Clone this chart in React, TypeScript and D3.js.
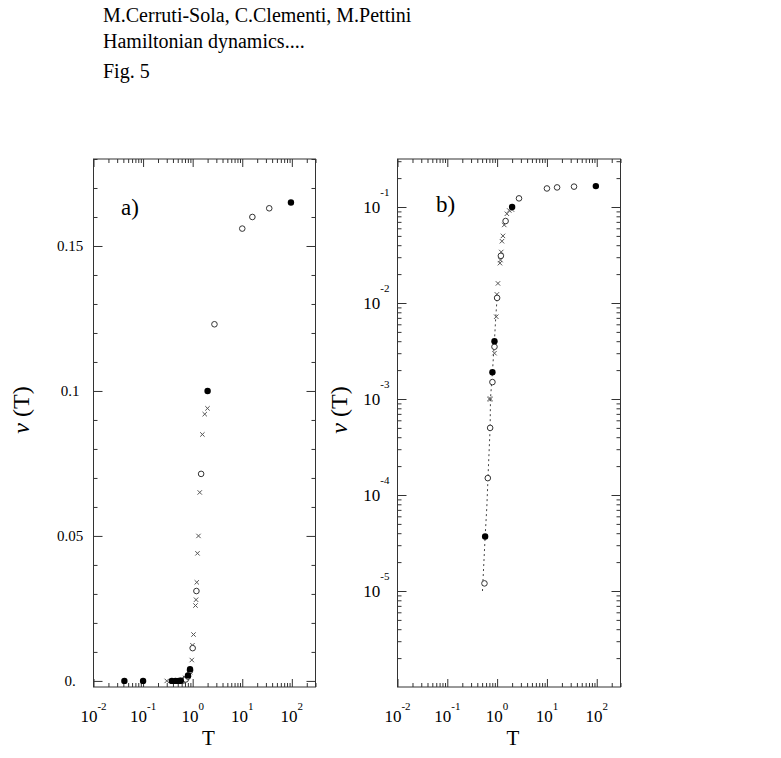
import React, { useEffect, useRef } from "react";
import * as d3 from "d3";

const titleLines = ["M.Cerruti-Sola, C.Clementi, M.Pettini", "Hamiltonian dynamics....", "Fig. 5"];

// filled circles
const filledT = [0.042, 0.1, 0.38, 0.45, 0.52, 0.575, 0.805, 0.885, 2.0, 96];
const filledNu = [0, 0, 0, 0, 0, 3.7e-5, 0.0019, 0.004, 0.1, 0.165];

// open circles
const openT = [0.557, 0.65, 0.724, 0.805, 0.885, 1.0, 1.19, 1.48, 2.75, 10, 16, 35];
const openNu = [1.2e-5, 1.5e-4, 5e-4, 0.0015, 0.0035, 0.0113, 0.031, 0.0714, 0.123, 0.156, 0.16, 0.163];

// crosses
const crossT = [0.3, 0.7, 0.74, 0.885, 0.96, 0.99, 1.04, 1.14, 1.17, 1.21, 1.25, 1.31, 1.39, 1.57, 1.75, 1.99];
const crossNu = [0, 0.001, 0.001, 0.003, 0.0072, 0.0123, 0.016, 0.026, 0.028, 0.034, 0.044, 0.05, 0.065, 0.085, 0.092, 0.094];

// dotted fit line (panel b)
const fitT = [0.508, 0.575, 0.622, 0.67, 0.724, 0.735, 0.805, 0.883, 0.94, 1.0];
const fitNu = [1.0e-5, 3.7e-5, 7.6e-5, 2.0e-4, 5.0e-4, 1.0e-3, 1.9e-3, 4.0e-3, 7.2e-3, 0.0113];

const xDecades = [-2, -1, 0, 1, 2];
const xTickLabels = ["-2", "-1", "0", "1", "2"];
const linTicks = [0, 0.05, 0.1, 0.15];
const linTickLabels = ["0.", "0.05", "0.1", "0.15"];
const logDecades = [-5, -4, -3, -2, -1];
const logTickLabels = ["-5", "-4", "-3", "-2", "-1"];

const FONT = "'Liberation Serif', 'Times New Roman', serif";
const INK = "#333";

const App = () => {
  const ref = useRef<SVGSVGElement>(null);

  useEffect(() => {
    const svg = d3.select(ref.current);
    svg.selectAll("*").remove();

    svg.append("g")
      .selectAll("text")
      .data(titleLines)
      .enter()
      .append("text")
      .attr("x", 103)
      .attr("y", (d, i) => [22, 48, 78][i])
      .attr("font-family", FONT)
      .attr("font-size", 20)
      .attr("fill", "#000")
      .text(d => d);

    const drawPanel = (p: any) => {
      const { x0, x1, y0, y1, log } = p;
      const g = svg.append("g");

      const x = d3.scaleLog().domain([1e-2, 300]).range([x0, x1]);
      const y: any = log
        ? d3.scaleLog().domain([1e-6, Math.pow(10, -0.5)]).range([y1, y0])
        : d3.scaleLinear().domain([-0.0021, 0.18]).range([y1, y0]);

      const xMajor = xDecades.map(k => Math.pow(10, k));
      const xMinor: number[] = [];
      xDecades.forEach(k => {
        for (let m = 2; m <= 9; m++) {
          const v = m * Math.pow(10, k);
          if (v <= 300) xMinor.push(v);
        }
      });

      let yMajor: number[];
      let yMinor: number[] = [];
      if (log) {
        yMajor = logDecades.map(k => Math.pow(10, k));
        [-6, -5, -4, -3, -2, -1].forEach(k => {
          for (let m = 2; m <= 9; m++) {
            const v = m * Math.pow(10, k);
            if (v <= Math.pow(10, -0.5)) yMinor.push(v);
          }
        });
      } else {
        yMajor = linTicks;
        yMinor = d3.range(0, 19).map(i => i / 100).filter(v => !linTicks.some(t => Math.abs(t - v) < 1e-9));
      }

      const axisStyle = (sel: any) => {
        sel.select(".domain").remove();
        sel.selectAll("line").attr("stroke", INK).attr("stroke-width", 1);
      };

      [[xMajor, 8], [xMinor, 4]].forEach(([vals, len]: any) => {
        g.append("g").attr("transform", `translate(0,${y1})`)
          .call(d3.axisBottom(x).tickValues(vals).tickSize(-len).tickSizeOuter(0).tickFormat(() => ""))
          .call(axisStyle);
        g.append("g").attr("transform", `translate(0,${y0})`)
          .call(d3.axisTop(x).tickValues(vals).tickSize(-len).tickSizeOuter(0).tickFormat(() => ""))
          .call(axisStyle);
      });
      [[yMajor, 9], [yMinor, 4]].forEach(([vals, len]: any) => {
        g.append("g").attr("transform", `translate(${x0},0)`)
          .call(d3.axisLeft(y).tickValues(vals).tickSize(-len).tickSizeOuter(0).tickFormat(() => ""))
          .call(axisStyle);
        g.append("g").attr("transform", `translate(${x1},0)`)
          .call(d3.axisRight(y).tickValues(vals).tickSize(-len).tickSizeOuter(0).tickFormat(() => ""))
          .call(axisStyle);
      });

      g.append("rect")
        .attr("x", x0).attr("y", y0)
        .attr("width", x1 - x0).attr("height", y1 - y0)
        .attr("fill", "none").attr("stroke", INK).attr("stroke-width", 1);

      // x tick labels
      xDecades.forEach((k, i) => {
        const t = g.append("text")
          .attr("x", x(Math.pow(10, k)))
          .attr("y", 722)
          .attr("text-anchor", "middle")
          .attr("font-family", FONT)
          .attr("font-size", 17)
          .attr("fill", "#000");
        t.append("tspan").text("10");
        t.append("tspan").attr("dy", -12).attr("font-size", 11).text(xTickLabels[i]);
      });

      // y tick labels
      if (log) {
        logDecades.forEach((k, i) => {
          const t = g.append("text")
            .attr("x", x0 - 8)
            .attr("y", y(Math.pow(10, k)) + 6)
            .attr("text-anchor", "end")
            .attr("font-family", FONT)
            .attr("font-size", 17)
            .attr("fill", "#000");
          t.append("tspan").text("10");
          t.append("tspan").attr("dy", -17).attr("font-size", 11).text(logTickLabels[i]);
        });
      } else {
        linTicks.forEach((v, i) => {
          g.append("text")
            .attr("x", 70)
            .attr("y", y(v) + 5)
            .attr("text-anchor", "middle")
            .attr("font-family", FONT)
            .attr("font-size", 15)
            .attr("fill", "#000")
            .text(linTickLabels[i]);
        });
      }

      // axis titles
      g.append("text")
        .attr("x", (x0 + x1) / 2 + 4)
        .attr("y", 745)
        .attr("text-anchor", "middle")
        .attr("font-family", FONT)
        .attr("font-size", 21)
        .attr("fill", "#000")
        .text("T");

      const yl = g.append("text")
        .attr("transform", `translate(${p.ylabX},410) rotate(-90)`)
        .attr("text-anchor", "middle")
        .attr("font-family", FONT)
        .attr("font-size", 24)
        .attr("fill", "#000");
      yl.append("tspan").attr("font-style", "italic").text("ν");
      yl.append("tspan").text(" (T)");

      g.append("text")
        .attr("x", p.tagX)
        .attr("y", p.tagY)
        .attr("font-family", FONT)
        .attr("font-size", 23)
        .attr("fill", "#000")
        .text(p.tag);

      const ok = (v: number) => (log ? v >= 1e-6 : true);

      if (log) {
        const line = d3.line<number>()
          .x((d, i) => x(fitT[i]))
          .y((d, i) => y(fitNu[i]));
        g.append("path")
          .attr("d", line(fitNu))
          .attr("fill", "none")
          .attr("stroke", "#444")
          .attr("stroke-width", 1)
          .attr("stroke-dasharray", "2,3");
      }

      // crosses
      const cr = 2.2;
      crossT.forEach((t, i) => {
        if (!ok(crossNu[i])) return;
        const cx = x(t), cy = y(crossNu[i]);
        g.append("path")
          .attr("d", `M${cx - cr},${cy - cr}L${cx + cr},${cy + cr}M${cx - cr},${cy + cr}L${cx + cr},${cy - cr}`)
          .attr("stroke", "#555")
          .attr("stroke-width", 1)
          .attr("fill", "none");
      });

      // open circles
      openT.forEach((t, i) => {
        if (!ok(openNu[i])) return;
        g.append("circle")
          .attr("cx", x(t)).attr("cy", y(openNu[i])).attr("r", 2.8)
          .attr("fill", "#fff").attr("stroke", "#333").attr("stroke-width", 1);
      });

      // filled circles
      filledT.forEach((t, i) => {
        if (!ok(filledNu[i]) || (log && filledNu[i] <= 0)) return;
        g.append("circle")
          .attr("cx", x(t)).attr("cy", y(filledNu[i])).attr("r", 3.2)
          .attr("fill", "#000");
      });
    };

    drawPanel({ x0: 93.5, x1: 315.5, y0: 159, y1: 687, log: false, tag: "a)", tagX: 121, tagY: 215, ylabX: 29 });
    drawPanel({ x0: 397.5, x1: 620.5, y0: 159, y1: 687, log: true, tag: "b)", tagX: 436, tagY: 212, ylabX: 347 });
  }, []);

  return (
    <svg
      ref={ref}
      width={781}
      height={758}
      style={{ position: "absolute", left: 0, top: 0, background: "#fff" }}
    />
  );
};

export default App;
